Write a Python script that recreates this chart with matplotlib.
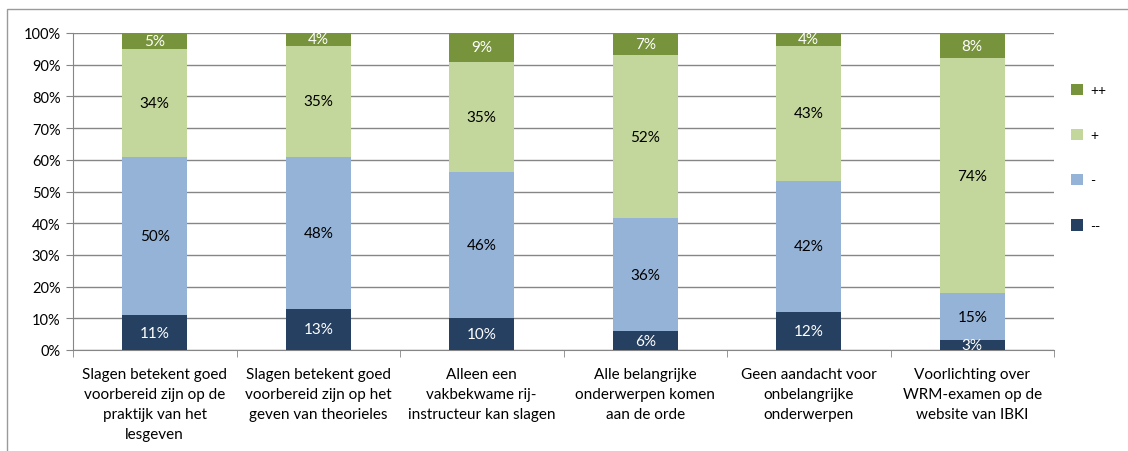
import numpy as np
import matplotlib.pyplot as plt
from matplotlib.patches import Rectangle

plt.rcParams['font.family'] = ['Lato', 'DejaVu Sans']

categories = [
    "Slagen betekent goed\nvoorbereid zijn op de\npraktijk van het\nlesgeven",
    "Slagen betekent goed\nvoorbereid zijn op het\ngeven van theorieles",
    "Alleen een\nvakbekwame rij-\ninstructeur kan slagen",
    "Alle belangrijke\nonderwerpen komen\naan de orde",
    "Geen aandacht voor\nonbelangrijke\nonderwerpen",
    "Voorlichting over\nWRM-examen op de\nwebsite van IBKI",
]
series = ["--", "-", "+", "++"]
vals_mm = [11, 13, 10, 6, 12, 3]
vals_m = [50, 48, 46, 36, 42, 15]
vals_p = [34, 35, 35, 52, 43, 74]
vals_pp = [5, 4, 9, 7, 4, 8]
colors = ["#254061", "#95B3D7", "#C3D69B", "#77933C"]
text_colors = ["white", "black", "black", "white"]

data = np.array([vals_mm, vals_m, vals_p, vals_pp], dtype=float)
shares = data / data.sum(axis=0) * 100

fig = plt.figure(figsize=(11.28, 4.52), dpi=100)
# outer chart-area frame (runs off the right and bottom edges)
fig.patches.append(Rectangle((7 / 1128, -0.1), 1.2, 1.1 - 10 / 452,
                             transform=fig.transFigure, fill=False,
                             edgecolor="#9a9a9a", linewidth=1.0))
ax = fig.add_axes([73 / 1128, 1 - 351 / 452, (1054 - 73) / 1128, (351 - 34) / 452])

x = np.arange(len(categories))
bottom = np.zeros(len(categories))
for i, name in enumerate(series):
    ax.bar(x, shares[i], bottom=bottom, width=0.4, color=colors[i], label=name, zorder=3)
    for j in range(len(categories)):
        ax.text(x[j], bottom[j] + shares[i][j] / 2, f"{int(data[i][j])}%",
                ha="center", va="center", fontsize=11, color=text_colors[i], zorder=4)
    bottom += shares[i]

ax.set_xlim(-0.5, len(categories) - 0.5)
ax.set_ylim(0, 100)
ax.set_yticks(np.arange(0, 101, 10))
ax.set_yticklabels([f"{v}%" for v in range(0, 101, 10)], fontsize=10.5)
ax.yaxis.grid(True, color="#868686", linewidth=1.0, zorder=0)
ax.set_xticks(x)
ax.set_xticklabels(categories, fontsize=11, linespacing=1.55)
ax.tick_params(axis="x", length=0, pad=12)
ax.set_xticks(np.arange(-0.5, len(categories), 1), minor=True)
ax.tick_params(axis="x", which="minor", length=5, color="#868686")
ax.tick_params(axis="y", length=5, color="#868686", pad=4)
for s in ["top", "right"]:
    ax.spines[s].set_visible(False)
for s in ["left", "bottom"]:
    ax.spines[s].set_color("#868686")

handles, labels = ax.get_legend_handles_labels()
fig.legend(handles[::-1], labels[::-1], loc="upper left",
           bbox_to_anchor=(1058 / 1128, 1 - 72 / 452), frameon=False,
           fontsize=10, handlelength=0.9, handleheight=0.9, labelspacing=2.35,
           handletextpad=0.5)

fig.savefig("out.png", dpi=100)
